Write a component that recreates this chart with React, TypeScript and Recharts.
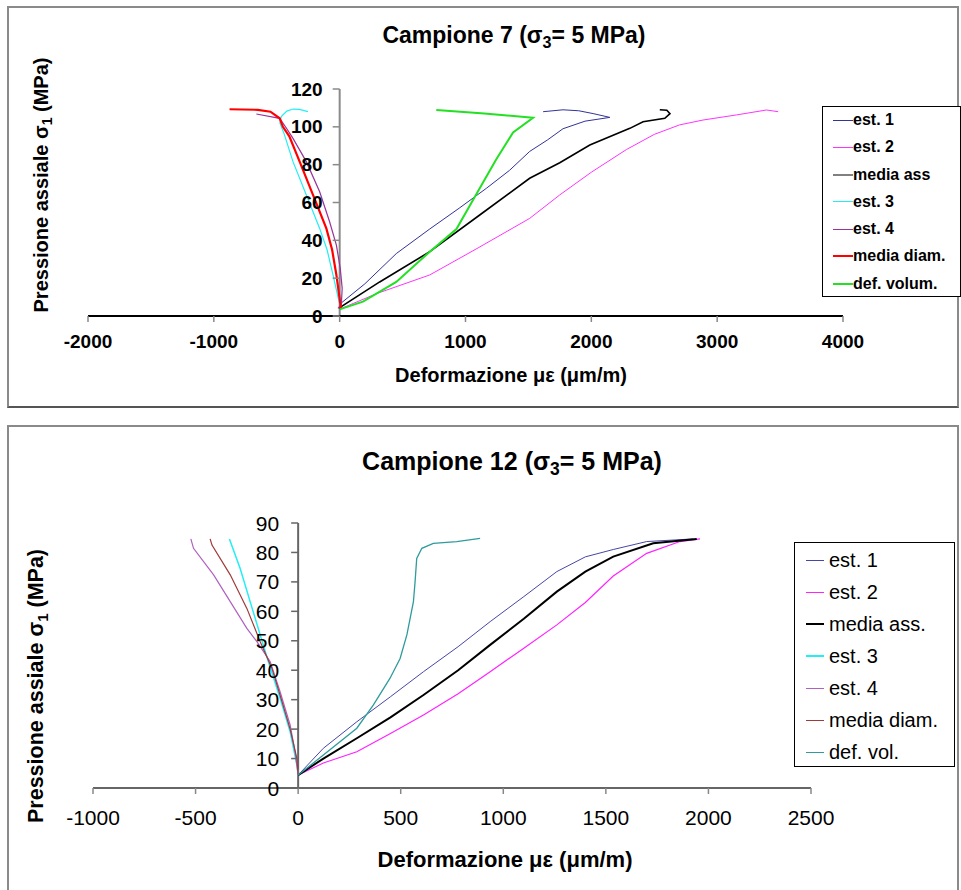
import React from 'react';
import { LineChart, Line, XAxis, YAxis, ReferenceLine } from 'recharts';

const FONT = '"Liberation Sans", Arial, Helvetica, sans-serif';

// ---------- Campione 7 ----------
const c7XTicks = [-2000, -1000, 0, 1000, 2000, 3000, 4000];
const c7YTicks = [0, 20, 40, 60, 80, 100, 120];
const c7Est1: [number, number][] = [[0, 4], [15, 7], [200, 17], [450, 33], [716, 46], [950, 57], [1166, 67.5], [1350, 77], [1510, 87], [1650, 93], [1775, 99], [1950, 103], [2147, 105], [2014, 107], [1900, 108.5], [1775, 109], [1617, 108]];
const c7Est2: [number, number][] = [[0, 3], [13, 4], [300, 12], [716, 21.7], [1100, 36], [1510, 51.6], [1749, 64], [2000, 76], [2279, 88], [2500, 96], [2700, 101], [2888, 103.6], [3154, 106.3], [3392, 108.9], [3485, 108]];
const c7MediaAss: [number, number][] = [[0, 4], [13, 5], [318, 18], [716, 34], [1113, 53.4], [1510, 72.8], [1749, 81], [1988, 90.4], [2306, 99.2], [2411, 102.7], [2584, 104.5], [2625, 107], [2600, 108.8], [2544, 109]];
const c7Est3: [number, number][] = [[10, 4], [-5, 7.6], [-53, 21.7], [-100, 35], [-159, 46.3], [-265, 64], [-371, 81.6], [-440, 96], [-475, 102], [-464, 105.4], [-420, 108.3], [-370, 109.4], [-320, 109.2], [-252, 108]];
const c7Est4: [number, number][] = [[-13, 4], [13, 6], [20, 14.6], [5, 25], [-26, 37.5], [-80, 49.8], [-159, 65.7], [-265, 81.6], [-371, 93.9], [-420, 99], [-477, 104.5], [-662, 106.8]];
const c7MediaDiam: [number, number][] = [[10, 4], [-26, 21.7], [-60, 35], [-106, 46.3], [-212, 64], [-318, 81.6], [-400, 95], [-451, 100], [-477, 104.5], [-550, 108], [-650, 109], [-875, 109.3]];
const c7DefVol: [number, number][] = [[0, 3.5], [185, 7.6], [450, 18], [716, 34], [928, 46], [1113, 67.5], [1246, 83], [1378, 97], [1537, 104.8], [1150, 107], [768, 108.9]];
const c7Names = ['est. 1', 'est. 2', 'media ass', 'est. 3', 'est. 4', 'media diam.', 'def. volum.'];

// ---------- Campione 12 ----------
const c12XTicks = [-1000, -500, 0, 500, 1000, 1500, 2000, 2500];
const c12YTicks = [0, 10, 20, 30, 40, 50, 60, 70, 80, 90];
const c12Est1: [number, number][] = [[0, 4.4], [123, 13.5], [286, 22.5], [450, 31], [611, 39.5], [780, 48], [936, 56.5], [1100, 65], [1261, 73.5], [1400, 78.5], [1536, 81], [1699, 83.7], [1926, 84.6]];
const c12Est2: [number, number][] = [[0, 4.4], [123, 8.5], [286, 12.3], [450, 18.5], [611, 24.8], [780, 32], [936, 39.5], [1100, 47.5], [1261, 55.4], [1400, 63], [1536, 72], [1699, 79.7], [1861, 83.7], [1959, 84.6]];
const c12MediaAss: [number, number][] = [[0, 4.4], [123, 10], [286, 16.9], [450, 24], [611, 31.6], [780, 40], [936, 48.6], [1100, 57.5], [1261, 66.7], [1400, 73.5], [1536, 78.6], [1731, 83.1], [1943, 84.6]];
const c12Est3: [number, number][] = [[0, 4.4], [-6, 7.8], [-39, 19.1], [-88, 30.5], [-145, 42.9], [-185, 52], [-234, 63.3], [-283, 74.6], [-335, 84.6]];
const c12Est4: [number, number][] = [[0, 4.4], [-15, 12.3], [-39, 21.4], [-88, 32.7], [-136, 42.9], [-201, 49.7], [-250, 54.2], [-331, 63.3], [-412, 72.4], [-510, 81.4], [-523, 84.6]];
const c12MediaDiam: [number, number][] = [[0, 4.4], [-6, 10], [-39, 20], [-88, 31.5], [-128, 40.7], [-185, 49.7], [-250, 61], [-331, 72.4], [-420, 82.5], [-429, 84.6]];
const c12DefVol: [number, number][] = [[0, 4.4], [123, 11.2], [286, 20.3], [367, 28.2], [448, 37.3], [497, 44], [530, 52], [562, 63.3], [570, 70], [578, 78], [603, 81.4], [659, 83.1], [773, 83.7], [887, 84.8]];
const c12Names = ['est. 1', 'est. 2', 'media ass.', 'est. 3', 'est. 4', 'media diam.', 'def. vol.'];

type Series = { name: string; data: [number, number][]; color: string; width: number; legendColor?: string };

const c7Series: Series[] = [
  { name: c7Names[0], data: c7Est1, color: '#333399', width: 1 },
  { name: c7Names[1], data: c7Est2, color: '#FF33FF', width: 1 },
  { name: c7Names[2], data: c7MediaAss, color: '#000000', width: 1.6, legendColor: '#808080' },
  { name: c7Names[3], data: c7Est3, color: '#22EEF5', width: 1.2 },
  { name: c7Names[4], data: c7Est4, color: '#993399', width: 1.2 },
  { name: c7Names[5], data: c7MediaDiam, color: '#FF0000', width: 2.2 },
  { name: c7Names[6], data: c7DefVol, color: '#22E022', width: 2 },
];

const c12Series: Series[] = [
  { name: c12Names[0], data: c12Est1, color: '#4646A8', width: 1 },
  { name: c12Names[1], data: c12Est2, color: '#FF22FF', width: 1.2 },
  { name: c12Names[2], data: c12MediaAss, color: '#000000', width: 2 },
  { name: c12Names[3], data: c12Est3, color: '#22EEF5', width: 1.5 },
  { name: c12Names[4], data: c12Est4, color: '#B060C0', width: 1.2 },
  { name: c12Names[5], data: c12MediaDiam, color: '#A03A3A', width: 1.2 },
  { name: c12Names[6], data: c12DefVol, color: '#2F9B9B', width: 1.3 },
];

const toPts = (d: [number, number][]) => d.map(([x, y]) => ({ x, y }));

type PanelProps = {
  top: number;
  height: number;
  margin: { left: number; right: number; top: number; bottom: number };
  xTicks: number[];
  yTicks: number[];
  series: Series[];
  tickSize: number;
  tickBold: boolean;
  xAxisColor: string;
  yAxisColor: string;
  xTickMargin: number;
  yLabelGap: number;
};

const WIDTH = 961;
const YW = 1;

function Panel(p: PanelProps) {
  const xMin = p.xTicks[0];
  const xMax = p.xTicks[p.xTicks.length - 1];
  const plotLeft = p.margin.left + YW;
  const plotW = WIDTH - plotLeft - p.margin.right;
  const axis0 = plotLeft + (plotW * (0 - xMin)) / (xMax - xMin);
  const renderYTick = (props: any) => {
    const { y, payload } = props;
    return (
      <g>
        <line x1={axis0 - 7} x2={axis0} y1={y} y2={y} stroke={p.yAxisColor} strokeWidth={1.5} />
        <text
          x={axis0 - p.yLabelGap}
          y={y}
          textAnchor="end"
          dominantBaseline="central"
          fontFamily={FONT}
          fontSize={p.tickSize}
          fontWeight={p.tickBold ? 'bold' : 'normal'}
          fill="#000"
        >
          {payload.value}
        </text>
      </g>
    );
  };
  return (
    <div style={{ position: 'absolute', left: 0, top: p.top }}>
      <LineChart width={WIDTH} height={p.height} margin={p.margin}>
        <XAxis
          type="number"
          dataKey="x"
          domain={[xMin, xMax]}
          ticks={p.xTicks}
          interval={0}
          allowDataOverflow
          height={30}
          stroke={p.xAxisColor}
          strokeWidth={1.8}
          tickSize={6}
          tickMargin={p.xTickMargin}
          tickLine={{ stroke: '#888', strokeWidth: 1.5 }}
          tick={{ fill: '#000', fontFamily: FONT, fontSize: p.tickSize, fontWeight: p.tickBold ? 'bold' : 'normal' }}
        />
        <YAxis
          type="number"
          dataKey="y"
          domain={[p.yTicks[0], p.yTicks[p.yTicks.length - 1]]}
          ticks={p.yTicks}
          interval={0}
          width={YW}
          axisLine={false}
          tickLine={false}
          tick={renderYTick}
        />
        <ReferenceLine x={0} stroke={p.yAxisColor} strokeWidth={2} ifOverflow="visible" />
        {p.series.map((s) => (
          <Line
            key={s.name}
            name={s.name}
            data={toPts(s.data)}
            dataKey="y"
            type="linear"
            stroke={s.color}
            strokeWidth={s.width}
            dot={false}
            activeDot={false}
            isAnimationActive={false}
          />
        ))}
      </LineChart>
    </div>
  );
}

function LegendBox(props: {
  left: number; top: number; width: number; height: number; series: Series[];
  rowH: number; padTop: number; fontSize: number; bold: boolean; lineLeft: number; lineW: number; textGap: number;
}) {
  return (
    <div
      style={{
        position: 'absolute', left: props.left, top: props.top, width: props.width, height: props.height,
        border: '1px solid #000', background: '#fff', boxSizing: 'border-box',
      }}
    >
      {props.series.map((s, i) => (
        <div
          key={s.name}
          style={{
            position: 'absolute', left: props.lineLeft, top: props.padTop + i * props.rowH - props.rowH / 2,
            height: props.rowH, display: 'flex', alignItems: 'center', whiteSpace: 'nowrap',
          }}
        >
          <div style={{ width: props.lineW, height: Math.max(1, Math.round(s.width)), background: s.legendColor || s.color }} />
          <span
            style={{
              marginLeft: props.textGap, fontFamily: FONT, fontSize: props.fontSize,
              fontWeight: props.bold ? 'bold' : 'normal', color: '#000', lineHeight: 1,
            }}
          >
            {s.name}
          </span>
        </div>
      ))}
    </div>
  );
}

function CText(props: { cx: number; cy: number; size: number; rotate?: boolean; children: React.ReactNode }) {
  return (
    <div
      style={{
        position: 'absolute', left: props.cx, top: props.cy, whiteSpace: 'nowrap',
        transform: props.rotate ? 'translate(-50%,-50%) rotate(-90deg)' : 'translate(-50%,-50%)',
        fontFamily: FONT, fontWeight: 'bold', fontSize: props.size, lineHeight: 1, color: '#000',
      }}
    >
      {props.children}
    </div>
  );
}

const Sub = ({ children }: { children: React.ReactNode }) => (
  <span style={{ fontSize: '0.7em', position: 'relative', top: '0.3em' }}>{children}</span>
);

export default function App() {
  return (
    <div style={{ position: 'absolute', left: 0, top: 0, width: 961, height: 890, overflow: 'hidden', background: '#fff' }}>
      {/* frames */}
      <div style={{ position: 'absolute', left: 7, top: 6, width: 952, height: 402, boxSizing: 'border-box', border: '2px solid #8a8a8a', borderBottomColor: '#555' }} />
      <div style={{ position: 'absolute', left: 7, top: 425, width: 952, height: 480, boxSizing: 'border-box', border: '2px solid #8a8a8a' }} />

      <Panel
        top={0}
        height={410}
        margin={{ left: 87, right: 118, top: 89, bottom: 64 }}
        xTicks={c7XTicks}
        yTicks={c7YTicks}
        series={c7Series}
        tickSize={19}
        tickBold
        xAxisColor="#000"
        yAxisColor="#8a8a8a"
        xTickMargin={13}
        yLabelGap={17}
      />
      <CText cx={514} cy={35} size={23}>Campione 7 (σ<Sub>3</Sub>= 5 MPa)</CText>
      <CText cx={511} cy={375} size={20}>Deformazione με (μm/m)</CText>
      <CText cx={41} cy={185} size={20} rotate>Pressione assiale σ<Sub>1</Sub> (MPa)</CText>
      <LegendBox left={822} top={106} width={139} height={191} series={c7Series} rowH={27.3} padTop={13} fontSize={16} bold lineLeft={10} lineW={20} textGap={0} />

      <Panel
        top={420}
        height={470}
        margin={{ left: 92, right: 150, top: 103, bottom: 72 }}
        xTicks={c12XTicks}
        yTicks={c12YTicks}
        series={c12Series}
        tickSize={21}
        tickBold={false}
        xAxisColor="#666"
        yAxisColor="#666"
        xTickMargin={16}
        yLabelGap={19}
      />
      <CText cx={512} cy={461} size={25}>Campione 12 (σ<Sub>3</Sub>= 5 MPa)</CText>
      <CText cx={505} cy={860} size={22}>Deformazione με (μm/m)</CText>
      <CText cx={37} cy={686} size={21.5} rotate>Pressione assiale σ<Sub>1</Sub> (MPa)</CText>
      <LegendBox left={794} top={542} width={161} height={225} series={c12Series} rowH={32} padTop={17} fontSize={20} bold={false} lineLeft={11} lineW={18} textGap={5} />
    </div>
  );
}
